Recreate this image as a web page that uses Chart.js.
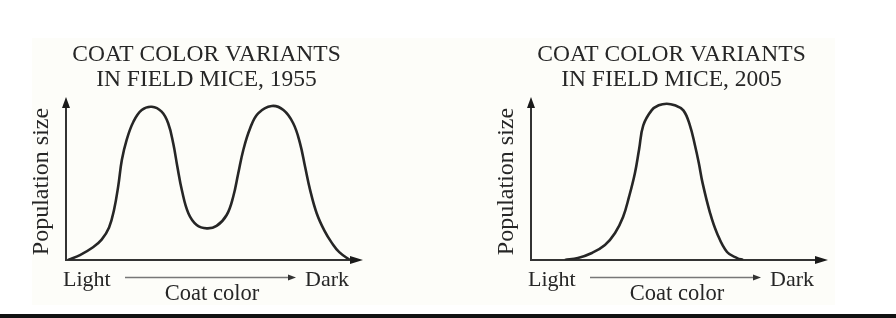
<!DOCTYPE html>
<html>
<head>
<meta charset="utf-8">
<script src="https://cdn.jsdelivr.net/npm/chart.js@4.4.0/dist/chart.umd.min.js"></script>
<style>
    html, body { margin: 0; padding: 0; background: #fff; }
    #wrap { position: relative; width: 896px; height: 318px; overflow: hidden; }
    #paper { position: absolute; left: 32px; top: 38px; width: 803px; height: 267px; background: #fdfdf9; }
    #rule { position: absolute; left: 0; top: 314px; width: 896px; height: 4px; background: #111; }
    canvas { position: absolute; top: 0; }
</style>
</head>
<body>
<div id="wrap">
    <div id="paper"></div>
    <canvas id="graph1" width="431" height="318" style="left:0px"></canvas>
    <canvas id="graph2" width="431" height="318" style="left:465px"></canvas>
    <div id="rule"></div>
</div>
<script>
// text
var titleTop = 'COAT COLOR VARIANTS';
var title1955 = 'IN FIELD MICE, 1955';
var title2005 = 'IN FIELD MICE, 2005';
var yLabel = 'Population size';
var xLabel = 'Coat color';
var xLow = 'Light';
var xHigh = 'Dark';

// 1955: coat color (0 = light, 100 = dark) vs population size (0-100)
var color1955 = [0.7, 4.7, 9.1, 12.0, 14.5, 16.2, 17.6, 18.8, 20.4, 22.7, 25.5, 28.9, 32.2, 34.4, 36.1, 37.5, 39.0, 41.2, 44.0,
                 47.4, 50.7, 54.1, 56.3, 58.0, 59.7, 62.0, 64.7, 69.3, 73.2, 76.5, 78.8, 80.5, 82.2, 84.4, 87.0, 89.5, 92.0, 95.6];
var size1955 = [0, 3.0, 7.8, 12.5, 20.0, 31.0, 45.5, 61.3, 73.6, 84.8, 92.0, 94.0, 91.0, 83.9, 71.6, 57.2, 42.9, 28.7, 21.5,
                19.4, 20.9, 27.6, 38.8, 53.2, 67.5, 80.8, 90.0, 94.5, 92.0, 83.9, 71.6, 57.2, 42.9, 28.7, 18.0, 10.5, 4.8, 0];

// 2005
var color2005 = [11.4, 15.8, 20.5, 24.9, 28.3, 31.0, 33.0, 35.0, 36.4, 37.8, 40.6, 43.0, 45.7,
                 48.4, 51.3, 53.5, 55.2, 56.5, 57.8, 60.3, 62.6, 66.0, 69.4, 71.4];
var size2005 = [0, 1.2, 4.3, 9.2, 16.6, 26.4, 38.7, 53.4, 68.0, 82.6, 91.8, 94.9, 95.9,
                94.9, 91.8, 82.6, 70.4, 59.5, 47.0, 28.8, 16.6, 4.9, 1.2, 0];

var ink = '#262626';
var serif = '"Liberation Serif", "Times New Roman", serif';

// axes with arrows, titles and labels, drawn around the chart area
var sketchAxes = {
    id: 'sketchAxes',
    beforeDatasetsDraw: function(chart) {
        var ctx = chart.ctx;
        var a = chart.chartArea;
        var opts = chart.options.plugins.sketchAxes;
        var mid = (a.left + a.right) / 2;
        ctx.save();

        // axis lines
        ctx.strokeStyle = '#333';
        ctx.lineWidth = 2;
        ctx.beginPath();
        ctx.moveTo(a.left, a.top + 8);
        ctx.lineTo(a.left, a.bottom);
        ctx.lineTo(a.right - 10, a.bottom);
        ctx.stroke();

        ctx.fillStyle = '#1a1a1a';
        ctx.beginPath();
        ctx.moveTo(a.left, a.top);
        ctx.lineTo(a.left - 4, a.top + 11);
        ctx.lineTo(a.left + 4, a.top + 11);
        ctx.closePath();
        ctx.fill();
        ctx.beginPath();
        ctx.moveTo(a.right, a.bottom);
        ctx.lineTo(a.right - 13, a.bottom - 4);
        ctx.lineTo(a.right - 13, a.bottom + 4);
        ctx.closePath();
        ctx.fill();

        // thin arrow under the axis
        var ay = a.bottom + 17.5;
        ctx.strokeStyle = '#777';
        ctx.lineWidth = 1.5;
        ctx.beginPath();
        ctx.moveTo(a.left + 59, ay);
        ctx.lineTo(a.left + 224, ay);
        ctx.stroke();
        ctx.fillStyle = '#333';
        ctx.beginPath();
        ctx.moveTo(a.left + 230, ay);
        ctx.lineTo(a.left + 222, ay - 3);
        ctx.lineTo(a.left + 222, ay + 3);
        ctx.closePath();
        ctx.fill();

        // text
        ctx.fillStyle = ink;
        ctx.textBaseline = 'alphabetic';
        ctx.font = '23.5px ' + serif;
        ctx.textAlign = 'center';
        ctx.fillText(opts.title[0], mid - 8, a.top - 36);
        ctx.fillText(opts.title[1], mid - 8, a.top - 11);

        ctx.font = '22.5px ' + serif;
        ctx.fillText(xLabel, a.left + 146, a.bottom + 40);
        ctx.font = '22px ' + serif;
        ctx.textAlign = 'left';
        ctx.fillText(xLow, a.left - 3, a.bottom + 26);
        ctx.textAlign = 'right';
        ctx.fillText(xHigh, a.right - 14, a.bottom + 26);

        ctx.font = '24px ' + serif;
        ctx.translate(a.left - 18, (a.top + a.bottom) / 2 + 3);
        ctx.rotate(-Math.PI / 2);
        ctx.textAlign = 'center';
        ctx.fillText(yLabel, 0, 0);
        ctx.restore();
    }
};

function makeChart(id, xs, ys, titleLines) {
    var ctx = document.getElementById(id).getContext('2d');
    return new Chart(ctx, {
        type: 'line',
        data: {
            datasets: [{
                data: xs.map(function(x, i) { return { x: x, y: ys[i] }; }),
                borderColor: ink,
                borderWidth: 2.6,
                pointRadius: 0,
                fill: false,
                tension: 0.4
            }]
        },
        options: {
            responsive: false,
            animation: false,
            devicePixelRatio: 1,
            layout: { padding: { left: 66, right: 68, top: 97, bottom: 58 } },
            scales: {
                x: { type: 'linear', min: 0, max: 100, display: false },
                y: { min: 0, max: 100, display: false }
            },
            plugins: {
                legend: { display: false },
                tooltip: { enabled: false },
                sketchAxes: { title: titleLines }
            }
        },
        plugins: [sketchAxes]
    });
}

makeChart('graph1', color1955, size1955, [titleTop, title1955]);
makeChart('graph2', color2005, size2005, [titleTop, title2005]);
</script>
</body>
</html>
